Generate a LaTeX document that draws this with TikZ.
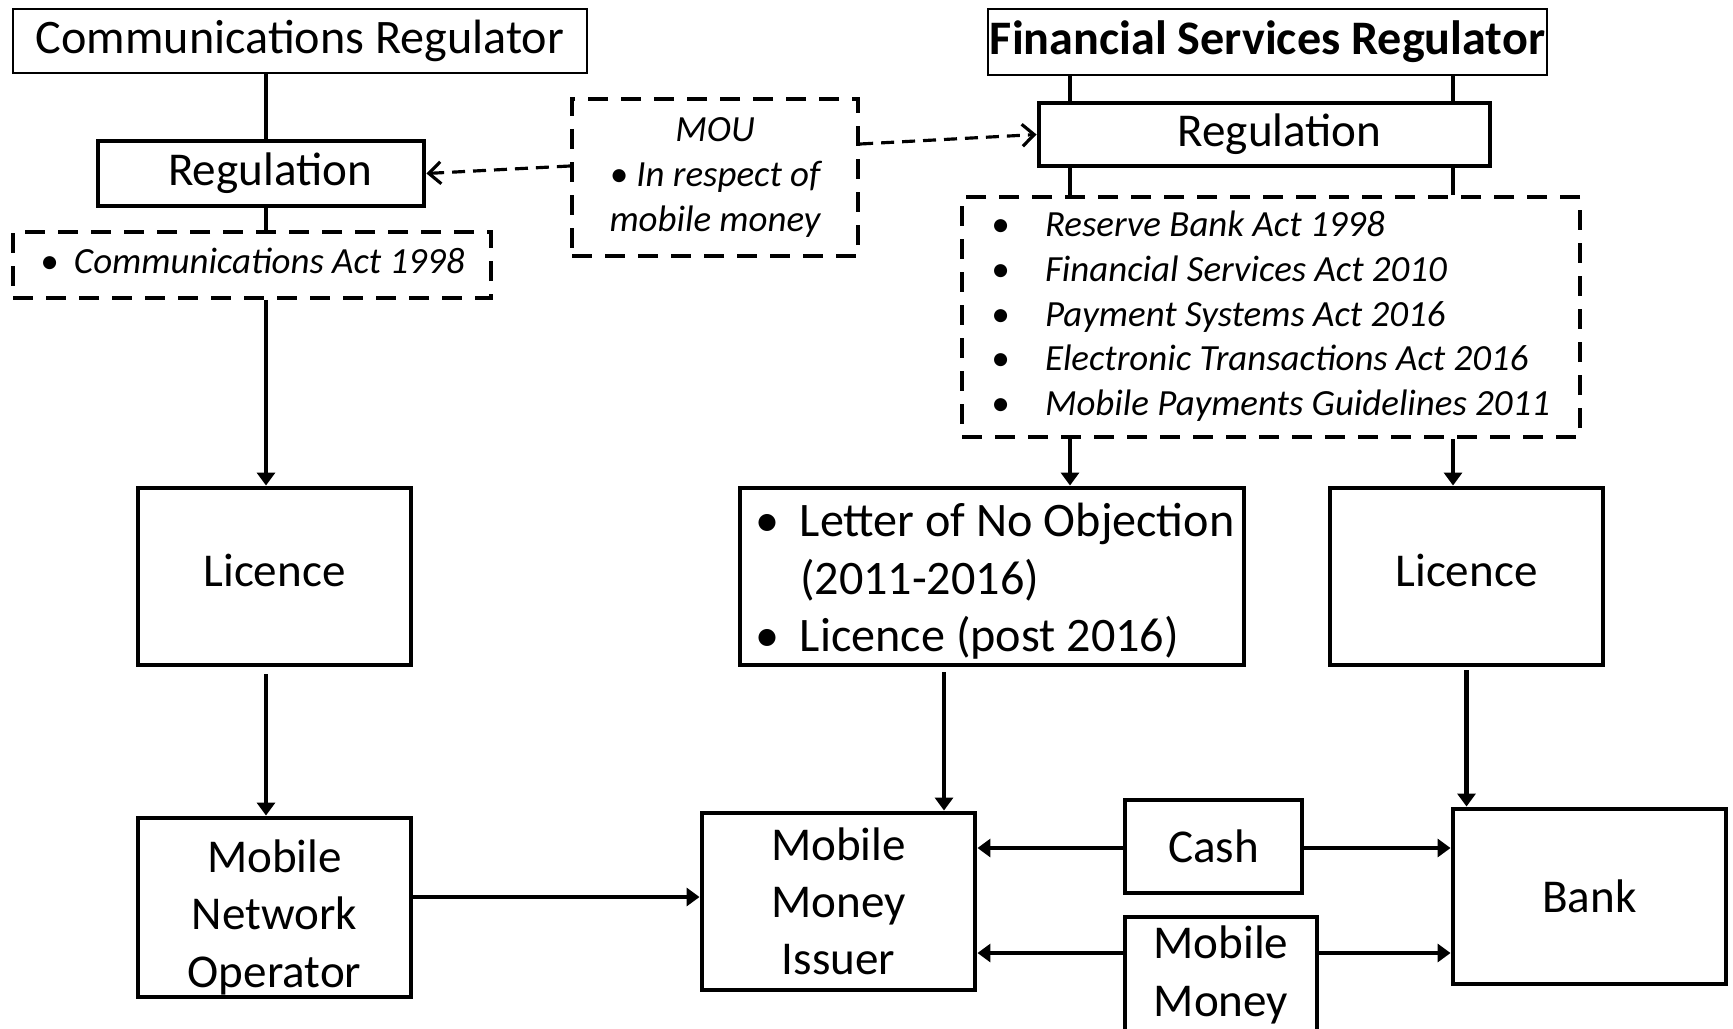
\documentclass[tikz,border=0pt]{standalone}
\usepackage{fontspec}
\setmainfont{Carlito}
\usepackage{tikz}
\usetikzlibrary{arrows.meta,positioning}

\begin{document}
\begin{tikzpicture}[
    box/.style={rectangle, draw=black, line width=1.4pt, fill=white, inner sep=0pt, align=center, font=\fontsize{13.4}{16.3}\selectfont},
    thinbox/.style={box, line width=0.6pt, font=\fontsize{13.7}{16.6}\selectfont},
    lawbox/.style={rectangle, draw=black, line width=1.2pt, dash pattern=on 0.2cm off 0.13cm, inner sep=0pt, font=\fontsize{10.5}{12.8}\selectfont\itshape},
    link/.style={line width=1.1pt},
    arrow/.style={line width=1.4pt, -{Triangle[length=0.13cm, width=0.18cm]}},
    mouarrow/.style={line width=0.9pt, dash pattern=on 0.13cm off 0.08cm, -{Straight Barb[length=0.12cm, width=0.22cm]}}
]

\useasboundingbox (0,0) rectangle (17.33,-10.28);

% Communications side
\node[thinbox, minimum width=5.74cm, minimum height=0.64cm] (commreg) at (3.00,-0.41) {Communications Regulator};
\node[box, minimum width=3.26cm, minimum height=0.65cm] (commregulation) at (2.61,-1.735) {\hspace{0.18cm}Regulation};
\node[lawbox, minimum width=4.78cm, minimum height=0.66cm] (commact) at (2.52,-2.65) {\makebox[4.24cm][l]{\begin{tabular}{@{}p{0.34cm}@{}l@{}}\textbullet & Communications Act 1998\end{tabular}}};

% MOU between the regulators
\node[lawbox, minimum width=2.86cm, minimum height=1.57cm, align=center] (mou) at (7.15,-1.775) {MOU\\\textbullet\ In respect of\\mobile money};

% Financial side
\node[thinbox, minimum width=5.59cm, minimum height=0.66cm, font=\fontsize{13.7}{16.6}\selectfont\bfseries] (finreg) at (12.675,-0.42) {Financial Services Regulator};
\node[box, minimum width=4.51cm, minimum height=0.63cm] (finregulation) at (12.645,-1.345) {\hspace{0.3cm}Regulation};
\node[lawbox, minimum width=6.18cm, minimum height=2.40cm] (finacts) at (12.71,-3.17) {\makebox[5.60cm][l]{\begin{tabular}{@{}p{0.54cm}@{}l@{}}
  \textbullet & Reserve Bank Act 1998\\
  \textbullet & Financial Services Act 2010\\
  \textbullet & Payment Systems Act 2016\\
  \textbullet & Electronic Transactions Act 2016\\
  \textbullet & Mobile Payments Guidelines 2011
\end{tabular}}};

% Licences
\node[box, minimum width=2.73cm, minimum height=1.77cm, text depth=0.13cm] (commlicence) at (2.745,-5.765) {Licence};
\node[box, minimum width=5.04cm, minimum height=1.77cm, text depth=17.4pt, font=\fontsize{13.7}{16.3}\selectfont] (lono) at (9.92,-5.765) {\makebox[4.74cm][l]{\begin{tabular}{@{}p{0.45cm}@{}l@{}}
  \textbullet & Letter of No Objection\\
   & (2011-2016)\\
  \textbullet & Licence (post 2016)
\end{tabular}}};
\node[box, minimum width=2.73cm, minimum height=1.77cm, text depth=0.13cm] (finlicence) at (14.665,-5.765) {Licence};

% Bottom row
\node[box, minimum width=2.73cm, minimum height=1.79cm, text height=1.67cm] (mno) at (2.745,-9.075) {Mobile\\Network\\Operator};
\node[box, minimum width=2.73cm, minimum height=1.77cm] (mmi) at (8.385,-9.015) {Mobile\\Money\\Issuer};
\node[box, minimum width=1.77cm, minimum height=0.93cm] (cash) at (12.135,-8.465) {Cash};
\node[box, minimum width=1.92cm, minimum height=1.16cm] (mobmoney) at (12.21,-9.75) {Mobile\\Money};
\node[box, minimum width=2.73cm, minimum height=1.75cm] (bank) at (15.895,-8.965) {Bank};

% Columns and rows of the connectors
\coordinate (colcomm) at (2.66,0);
\coordinate (colfinl) at (10.70,0);
\coordinate (colfinr) at (14.53,0);
\coordinate (collono) at (9.44,0);
\coordinate (rowmno) at (0,-8.97);
\coordinate (rowcash) at (0,-8.48);
\coordinate (rowmob) at (0,-9.53);

% Connectors
\draw[link] (commreg.south -| colcomm) -- (commregulation.north -| colcomm);
\draw[link] (commregulation.south -| colcomm) -- (commact.north -| colcomm);
\draw[arrow] (commact.south -| colcomm) -- (commlicence.north -| colcomm);
\draw[arrow, shorten <=0.07cm] (commlicence.south -| colcomm) -- (mno.north -| colcomm);

\draw[link] (finreg.south -| colfinl) -- (finregulation.north -| colfinl);
\draw[link] (finreg.south -| colfinr) -- (finregulation.north -| colfinr);
\draw[link] (finregulation.south -| colfinl) -- (finacts.north -| colfinl);
\draw[link] (finregulation.south -| colfinr) -- (finacts.north -| colfinr);
\draw[arrow] (finacts.south -| colfinl) -- (lono.north -| colfinl);
\draw[arrow] (finacts.south -| colfinr) -- (finlicence.north -| colfinr);
\draw[arrow, shorten <=0.05cm] (lono.south -| collono) -- (mmi.north -| collono);
\draw[arrow, shorten <=0.03cm] (finlicence.south) -- (bank.north -| finlicence.south);

\draw[arrow] (mno.east |- rowmno) -- (mmi.west |- rowmno);
\draw[arrow] (cash.west |- rowcash) -- (mmi.east |- rowcash);
\draw[arrow] (cash.east |- rowcash) -- (bank.west |- rowcash);
\draw[arrow] (mobmoney.west |- rowmob) -- (mmi.east |- rowmob);
\draw[arrow] (mobmoney.east |- rowmob) -- (bank.west |- rowmob);

\draw[mouarrow] ([yshift=0.115cm]mou.west) -- (commregulation.east);
\draw[mouarrow] ([yshift=0.335cm]mou.east) -- (finregulation.west);

\end{tikzpicture}
\end{document}
